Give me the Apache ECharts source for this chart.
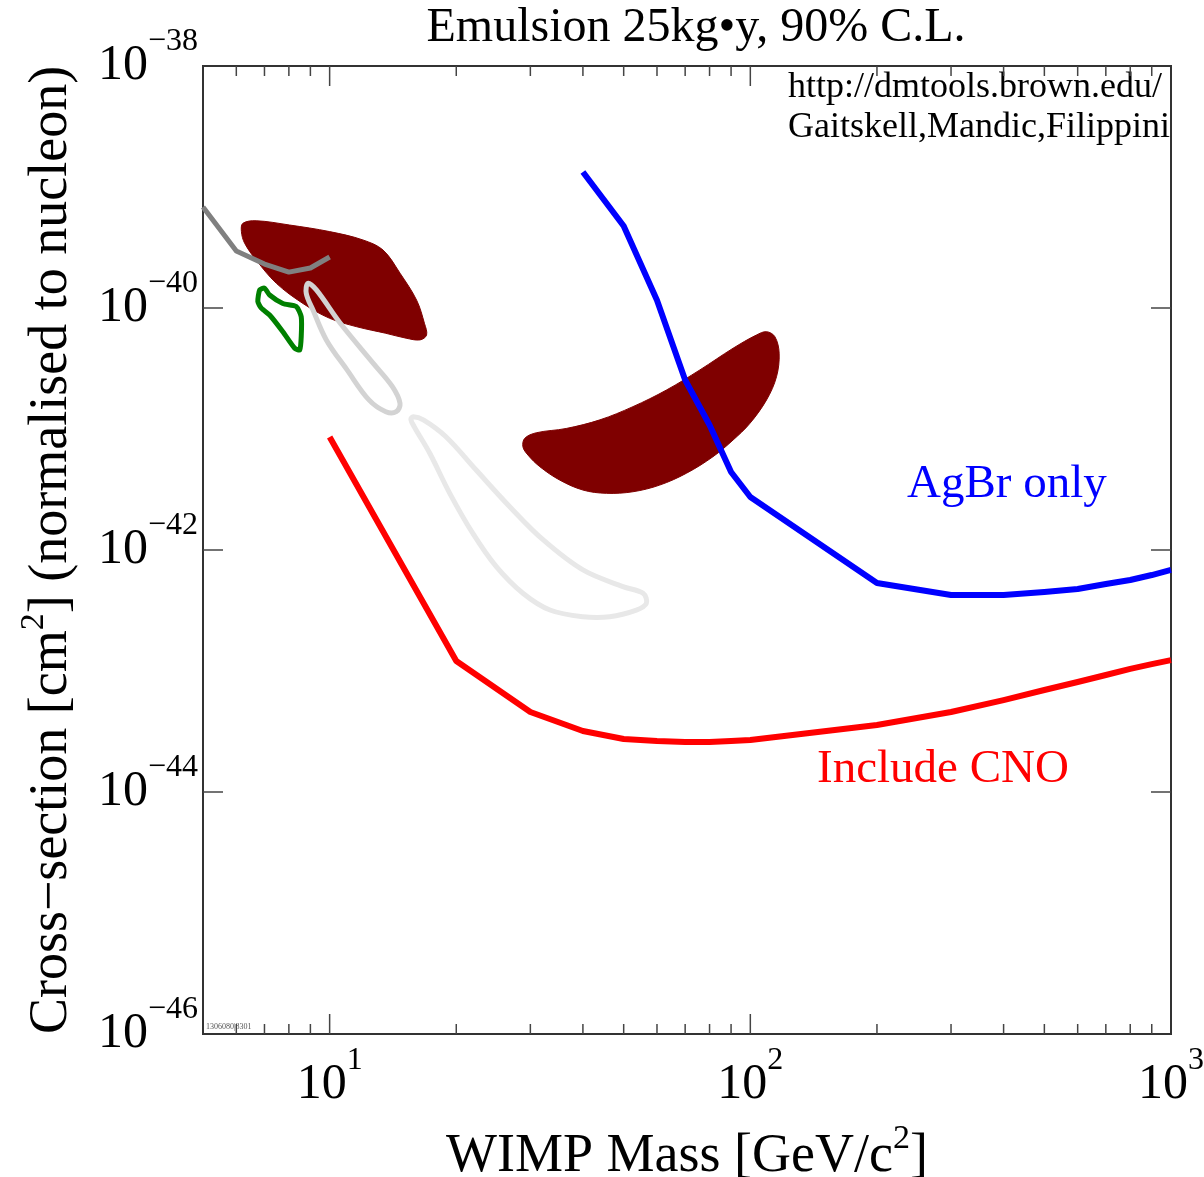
<!DOCTYPE html>
<html><head><meta charset="utf-8">
<script src="https://cdn.jsdelivr.net/npm/echarts@6/dist/echarts.min.js"></script>
<style>html,body{margin:0;padding:0;background:#fff}#c{width:1204px;height:1177px}</style>
</head><body><div id="c"></div>
<script>
const FONT = '"Liberation Serif","Times New Roman",serif';
const X_MIN = 5, X_MAX = 1000, Y_MIN = 1e-46, Y_MAX = 1e-38;

// x-axis tick marks (GeV/c^2)
const xTickMajor = [10, 100];
const xTickMinor = [6, 7, 8, 9, 20, 30, 40, 50, 60, 70, 80, 90, 200, 300, 400, 500, 600, 700, 800, 900];
// y-axis tick marks (cm^2)
const yTickMajor = [1e-44, 1e-42, 1e-40];

// AgBr only limit
const agbrMass = [40, 50, 60, 70, 80, 90, 100, 200, 300, 400, 500, 600, 700, 800, 900, 1000];
const agbrXs = [1.33e-39, 4.76e-40, 1.16e-40, 2.54e-41, 1.08e-41, 4.41e-42, 2.74e-42, 5.33e-43, 4.25e-43, 4.25e-43, 4.50e-43, 4.76e-43, 5.24e-43, 5.65e-43, 6.21e-43, 6.84e-43];

// Include CNO limit
const cnoMass = [10, 20, 30, 40, 50, 60, 70, 80, 90, 100, 200, 300, 400, 500, 600, 700, 800, 900, 1000];
const cnoXs = [8.59e-42, 1.21e-43, 4.58e-44, 3.19e-44, 2.74e-44, 2.64e-44, 2.59e-44, 2.59e-44, 2.64e-44, 2.69e-44, 3.58e-44, 4.58e-44, 5.75e-44, 6.97e-44, 8.11e-44, 9.27e-44, 1.04e-43, 1.14e-43, 1.23e-43];

// dark gray limit curve (low mass)
const grayMass = [5, 6, 7, 8, 9, 10];
const grayXs = [6.84e-40, 2.96e-40, 2.31e-40, 1.98e-40, 2.14e-40, 2.64e-40];

// filled region (upper left)
const regionAMass = [6.22, 6.69, 8.03, 10.0, 12.0, 13.4, 14.7, 16.1, 16.8, 17.0, 16.4, 15.2, 13.6, 11.6, 10.0, 8.64, 7.47, 6.69, 6.28, 6.17];
const regionAXs = [5.01e-40, 5.26e-40, 4.85e-40, 4.28e-40, 3.65e-40, 3.01e-40, 1.94e-40, 1.16e-40, 7.48e-41, 5.98e-41, 5.45e-41, 5.63e-41, 6.18e-41, 7.0e-41, 8.22e-41, 1.09e-40, 1.60e-40, 2.49e-40, 3.43e-40, 4.28e-40];

// filled region (crescent)
const regionBMass = [29.1, 31.0, 36.5, 43.9, 52.6, 63.2, 75.9, 91.0, 103.4, 109.3, 114.4, 117.1, 115.4, 109.3, 99.7, 91.0, 81.5, 70.5, 60.9, 52.6, 45.5, 40.0, 35.2, 31.6, 29.6, 28.8];
const regionBXs = [8.38e-42, 9.31e-42, 1.01e-41, 1.19e-41, 1.53e-41, 2.10e-41, 3.08e-41, 4.65e-41, 5.98e-41, 6.37e-41, 5.79e-41, 4.23e-41, 2.70e-41, 1.74e-41, 1.11e-41, 8.11e-42, 5.90e-42, 4.31e-42, 3.44e-42, 3.03e-42, 2.94e-42, 3.13e-42, 3.79e-42, 4.88e-42, 6.10e-42, 7.14e-42];

// green contour
const greenMass = [6.82, 7.00, 7.20, 7.74, 8.33, 8.56, 8.56, 8.49, 8.26, 7.74, 7.20, 6.88, 6.75];
const greenXs = [1.41e-40, 1.46e-40, 1.28e-40, 1.09e-40, 1.03e-40, 8.47e-41, 5.79e-41, 4.50e-41, 4.65e-41, 6.37e-41, 8.75e-41, 9.96e-41, 1.13e-40];

// light gray contour 1
const loop1Mass = [8.88, 9.30, 10.6, 12.7, 14.1, 14.7, 14.4, 13.6, 12.4, 11.0, 9.82, 9.13, 8.80];
const loop1Xs = [1.60e-40, 1.41e-40, 7.48e-41, 3.49e-41, 2.24e-41, 1.63e-41, 1.39e-41, 1.39e-41, 1.74e-41, 3.08e-41, 5.45e-41, 9.62e-41, 1.32e-40];

// light gray contour 2
const loop2Mass = [15.8, 16.7, 18.9, 22.3, 26.8, 32.2, 40.0, 49.8, 55.6, 56.6, 53.6, 46.3, 40.0, 33.4, 28.8, 24.9, 21.9, 19.3, 17.3, 15.9, 15.6];
const loop2Xs = [1.26e-41, 1.19e-41, 8.63e-42, 4.58e-42, 2.28e-42, 1.21e-42, 6.84e-43, 4.98e-43, 4.39e-43, 3.62e-43, 3.19e-43, 2.81e-43, 2.81e-43, 3.19e-43, 4.39e-43, 7.28e-43, 1.37e-42, 2.94e-42, 6.30e-42, 1.04e-41, 1.20e-41];

// Both axes are decade (log10) scales: values are converted with log10 before plotting.
const L = Math.log10;

const chart = echarts.init(document.getElementById('c'), null, {renderer: 'canvas'});

function pairs(a, b) { return a.map((v, i) => [L(v), L(b[i])]); }

function shapeSeries(name, masses, xs, style, z, smooth) {
  return {
    type: 'custom', name, coordinateSystem: 'cartesian2d', z, silent: true, clip: false,
    data: [[L(masses[0]), L(xs[0])]],
    renderItem(params, api) {
      const pts = masses.map((m, i) => api.coord([L(m), L(xs[i])]));
      return {type: 'polygon', shape: {points: pts, smooth: smooth}, style: style};
    }
  };
}

function lineSeries(name, masses, xs, color, width, z) {
  return {
    type: 'line', name, data: pairs(masses, xs), showSymbol: false, symbol: 'none', z,
    lineStyle: {color, width, join: 'round'}, silent: true, animation: false, clip: true
  };
}

const tickColor = '#444';
const xTickData = xTickMajor.map(v => [L(v), L(Y_MIN), 1]).concat(xTickMinor.map(v => [L(v), L(Y_MIN), 0]));
const yTickData = yTickMajor.map(v => [L(X_MIN), L(v), 1]);

function expLabel(e) {
  const r = Math.round(e);
  if (Math.abs(e - r) > 1e-6) return '';
  const s = r < 0 ? '\u2212' + Math.abs(r) : String(r);
  return '{b|10}{e|' + s + '}';
}

const labelRich = {
  b: {fontFamily: FONT, fontSize: 50, lineHeight: 80, color: '#000'},
  e: {fontFamily: FONT, fontSize: 32, lineHeight: 32, verticalAlign: 'top', color: '#000'}
};

const option = {
  animation: false,
  backgroundColor: '#fff',
  grid: {left: 203, right: 33, top: 66, bottom: 143, show: true, borderColor: '#333', borderWidth: 2,
         backgroundColor: 'transparent', containLabel: false, outerBoundsMode: 'none'},
  xAxis: {
    type: 'value', min: L(X_MIN), max: L(X_MAX),
    axisLine: {show: false}, axisTick: {show: false}, splitLine: {show: false},
    axisLabel: {margin: 11, showMinLabel: false, formatter: expLabel, rich: labelRich},
    name: '{a|WIMP Mass [GeV/c}{s|2}{a|]}',
    nameLocation: 'middle', nameGap: 88,
    nameTextStyle: {rich: {
      a: {fontFamily: FONT, fontSize: 54, lineHeight: 70, color: '#000'},
      s: {fontFamily: FONT, fontSize: 34, lineHeight: 34, verticalAlign: 'top', color: '#000'}
    }}
  },
  yAxis: {
    type: 'value', min: L(Y_MIN), max: L(Y_MAX), interval: 2,
    axisLine: {show: false}, axisTick: {show: false}, splitLine: {show: false},
    axisLabel: {margin: 5, formatter: expLabel, rich: labelRich},
    name: '{a|Cross\u2212section [cm}{s|2}{a|] (normalised to nucleon)}',
    nameLocation: 'middle', nameRotate: 90, nameGap: 116,
    nameTextStyle: {rich: {
      a: {fontFamily: FONT, fontSize: 54, lineHeight: 70, color: '#000'},
      s: {fontFamily: FONT, fontSize: 34, lineHeight: 34, verticalAlign: 'top', color: '#000'}
    }}
  },
  graphic: [
    {type: 'text', x: 696, y: 28, silent: true, style: {text: 'Emulsion 25kg\u2022y, 90% C.L.', font: '48px ' + FONT, fill: '#000', align: 'center', verticalAlign: 'middle'}},
    {type: 'text', x: 788, y: 88, silent: true, style: {text: 'http://dmtools.brown.edu/', font: '36px ' + FONT, fill: '#000', align: 'left', verticalAlign: 'middle'}},
    {type: 'text', x: 788, y: 128, silent: true, style: {text: 'Gaitskell,Mandic,Filippini', font: '36px ' + FONT, fill: '#000', align: 'left', verticalAlign: 'middle'}},
    {type: 'text', x: 907, y: 485, silent: true, style: {text: 'AgBr only', font: '47px ' + FONT, fill: '#0000ff', align: 'left', verticalAlign: 'middle'}},
    {type: 'text', x: 817, y: 770, silent: true, style: {text: 'Include CNO', font: '47px ' + FONT, fill: '#ff0000', align: 'left', verticalAlign: 'middle'}},
    {type: 'text', x: 206, y: 1027, silent: true, style: {text: '1306080|8301', font: '8px ' + FONT, fill: '#555', align: 'left', verticalAlign: 'middle'}}
  ],
  series: [
    shapeSeries('regionA', regionAMass, regionAXs, {fill: '#7f0000', stroke: '#7f0000', lineWidth: 1}, 2, 0.35),
    shapeSeries('regionB', regionBMass, regionBXs, {fill: '#7f0000', stroke: '#7f0000', lineWidth: 1}, 2, 0.35),
    shapeSeries('loop2', loop2Mass, loop2Xs, {fill: null, stroke: '#e8e8e8', lineWidth: 5}, 3, 0.35),
    shapeSeries('loop1', loop1Mass, loop1Xs, {fill: null, stroke: '#d3d3d3', lineWidth: 5}, 3, 0.35),
    shapeSeries('green', greenMass, greenXs, {fill: null, stroke: '#008000', lineWidth: 5}, 3, 0.2),
    lineSeries('gray', grayMass, grayXs, '#808080', 5, 4),
    lineSeries('AgBr only', agbrMass, agbrXs, '#0000ff', 6, 5),
    lineSeries('Include CNO', cnoMass, cnoXs, '#ff0000', 6, 5),
    {
      type: 'custom', name: 'xticks', coordinateSystem: 'cartesian2d', z: 6, silent: true, clip: false,
      data: xTickData,
      renderItem(params, api) {
        const v = api.value(0), major = api.value(2);
        const b = api.coord([v, L(Y_MIN)]), t = api.coord([v, L(Y_MAX)]);
        const len = major ? 20 : 10;
        const st = {stroke: tickColor, lineWidth: 1.5};
        return {type: 'group', children: [
          {type: 'line', shape: {x1: b[0], y1: b[1], x2: b[0], y2: b[1] - len}, style: st},
          {type: 'line', shape: {x1: t[0], y1: t[1], x2: t[0], y2: t[1] + len}, style: st}
        ]};
      }
    },
    {
      type: 'custom', name: 'yticks', coordinateSystem: 'cartesian2d', z: 6, silent: true, clip: false,
      data: yTickData,
      renderItem(params, api) {
        const v = api.value(1);
        const l = api.coord([L(X_MIN), v]), r = api.coord([L(X_MAX), v]);
        const st = {stroke: tickColor, lineWidth: 1.5};
        return {type: 'group', children: [
          {type: 'line', shape: {x1: l[0], y1: l[1], x2: l[0] + 20, y2: l[1]}, style: st},
          {type: 'line', shape: {x1: r[0], y1: r[1], x2: r[0] - 20, y2: r[1]}, style: st}
        ]};
      }
    }
  ]
};
chart.setOption(option);
</script>
</body></html>
